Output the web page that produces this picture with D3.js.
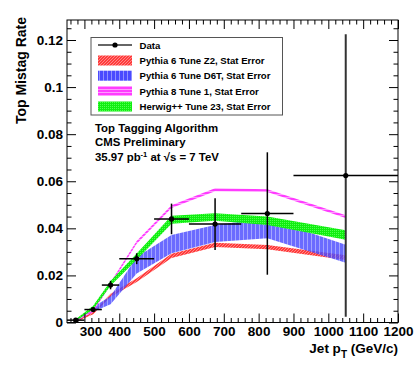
<!DOCTYPE html>
<html><head><meta charset="utf-8">
<script src="https://cdn.jsdelivr.net/npm/d3@7"></script>
<style>
html,body{margin:0;padding:0;background:#fff;}
svg text{font-family:"Liberation Sans",Arial,Helvetica,sans-serif;font-weight:bold;fill:#000;}
</style></head>
<body><svg id="c" width="415" height="371"></svg>
<script>
// ---- data ----
const binCenters = [275, 325, 375, 450, 550, 675, 825, 1050];
const binHalfWidths = [25, 25, 25, 50, 50, 75, 75, 150];
const dataRate = [0.001, 0.0055, 0.0159, 0.0271, 0.044, 0.0418, 0.0463, 0.0624];
const dataErr  = [0.0005, 0.0008, 0.0018, 0.0023, 0.0065, 0.011, 0.026, 0.060];

const z2Rate   = [0.0005, 0.004, 0.0115, 0.018, 0.0283, 0.033, 0.032, 0.0276];
const z2Err    = [0.0003, 0.0005, 0.0007, 0.0008, 0.0009, 0.0009, 0.0009, 0.001];
const d6tRate  = [0.0008, 0.0056, 0.0095, 0.0243, 0.0333, 0.0378, 0.0400, 0.0292];
const d6tErr   = [0.0004, 0.001, 0.0017, 0.0035, 0.0039, 0.0036, 0.0042, 0.0038];
const py8Rate  = [0.001, 0.005, 0.0165, 0.034, 0.0492, 0.0564, 0.056, 0.045];
const py8Err   = [0.0004, 0.0005, 0.0006, 0.0006, 0.0006, 0.0006, 0.0006, 0.0006];
const hwRate   = [0.001, 0.0063, 0.0166, 0.028, 0.0437, 0.0448, 0.0432, 0.0372];
const hwErr    = [0.0004, 0.0008, 0.001, 0.0013, 0.0017, 0.0016, 0.0018, 0.002];

const legendLabels = ["Data", "Pythia 6 Tune Z2, Stat Error", "Pythia 6 Tune D6T, Stat Error",
                      "Pythia 8 Tune 1, Stat Error", "Herwig++ Tune 23, Stat Error"];
const xMajorTicks = [300, 400, 500, 600, 700, 800, 900, 1000, 1100, 1200];
const yMajorTicks = [0, 0.02, 0.04, 0.06, 0.08, 0.1, 0.12];

// ---- layout ----
const svg = d3.select("#c");
const L = 67, R = 398, T = 20, B = 322.5;
const x = d3.scaleLinear().domain([250, 1200]).range([L, R]);
const y = d3.scaleLinear().domain([0, 0.1285]).range([B, T]);

// patterns
const defs = svg.append("defs");
function pat(id, w, h, bg, draw) {
  const p = defs.append("pattern").attr("id", id).attr("patternUnits", "userSpaceOnUse")
    .attr("width", w).attr("height", h);
  p.append("rect").attr("width", w).attr("height", h).attr("fill", bg);
  draw(p);
}
pat("pRed", 3, 3, "#ff3b3b", p => p.append("path").attr("d", "M0,3L3,0").attr("stroke", "#ff9a9a").attr("stroke-width", 0.8));
pat("pBlue", 4, 4, "#4a4aff", p => p.append("rect").attr("x", 3).attr("width", 1).attr("height", 4).attr("fill", "#9090ff"));
pat("pMag", 4, 3, "#ff3cff", p => p.append("rect").attr("y", 2).attr("width", 4).attr("height", 1).attr("fill", "#ff9cff"));
pat("pGreen", 2, 2, "#10ee10", p => p.append("rect").attr("width", 1).attr("height", 1).attr("fill", "#50ff50"));

// bands
const bands = [
  {rate: z2Rate, err: z2Err, fill: "url(#pRed)", op: 1},
  {rate: d6tRate, err: d6tErr, fill: "url(#pBlue)", op: 0.82},
  {rate: py8Rate, err: py8Err, fill: "url(#pMag)", op: 1},
  {rate: hwRate, err: hwErr, fill: "url(#pGreen)", op: 1}
];
const gB = svg.append("g");
bands.forEach(b => {
  const pts = binCenters.map((c, i) => ({x: c, lo: b.rate[i] - b.err[i], hi: b.rate[i] + b.err[i]}));
  const area = d3.area().x(d => x(d.x)).y0(d => y(d.lo)).y1(d => y(d.hi));
  gB.append("path").attr("d", area(pts)).attr("fill", b.fill).attr("fill-opacity", b.op);
});

// data points
const gD = svg.append("g");
binCenters.forEach((c, i) => {
  const col = i === binCenters.length - 1 ? "#333" : "#000";
  gD.append("line").attr("x1", x(c - binHalfWidths[i])).attr("x2", x(c + binHalfWidths[i]))
    .attr("y1", y(dataRate[i])).attr("y2", y(dataRate[i])).attr("stroke", "#000").attr("stroke-width", 1.5);
  gD.append("line").attr("x1", x(c)).attr("x2", x(c))
    .attr("y1", y(Math.max(0, dataRate[i] - dataErr[i]))).attr("y2", y(dataRate[i] + dataErr[i]))
    .attr("stroke", col).attr("stroke-width", i === binCenters.length - 1 ? 2 : 1.5);
  gD.append("circle").attr("cx", x(c)).attr("cy", y(dataRate[i])).attr("r", 2.6).attr("fill", "#000");
});

// axes
const xMinor = d3.range(260, 1201, 20).filter(v => v % 100 !== 0);
const yMinor = d3.range(0, 0.1285, 0.005).filter(v => Math.abs(v / 0.02 - Math.round(v / 0.02)) > 1e-6);
const fmtY = v => v === 0 ? "0" : String(+v.toFixed(2));

function styleAxis(g) { g.select(".domain").remove(); g.selectAll("line").attr("stroke", "#000"); }

svg.append("g").attr("transform", `translate(0,${B})`)
  .call(d3.axisBottom(x).tickValues(xMajorTicks).tickSize(-9).tickPadding(4).tickFormat(d3.format("d")))
  .call(styleAxis)
  .call(g => g.selectAll("text").attr("font-size", 13.5).attr("font-family", "Liberation Sans, Arial").attr("font-weight", "bold").attr("fill", "#000")
    .attr("dx", d => d === 300 ? 6 : 0));
svg.append("g").attr("transform", `translate(0,${B})`)
  .call(d3.axisBottom(x).tickValues(xMinor).tickSize(-4.5).tickFormat("")).call(styleAxis);
svg.append("g").attr("transform", `translate(0,${T})`)
  .call(d3.axisTop(x).tickValues(xMajorTicks).tickSize(-9).tickFormat("")).call(styleAxis);
svg.append("g").attr("transform", `translate(0,${T})`)
  .call(d3.axisTop(x).tickValues(xMinor).tickSize(-4.5).tickFormat("")).call(styleAxis);

svg.append("g").attr("transform", `translate(${L},0)`)
  .call(d3.axisLeft(y).tickValues(yMajorTicks).tickSize(-9).tickPadding(4).tickFormat(fmtY))
  .call(styleAxis)
  .call(g => g.selectAll("text").attr("font-size", 13.5).attr("font-family", "Liberation Sans, Arial").attr("font-weight", "bold").attr("fill", "#000"));
svg.append("g").attr("transform", `translate(${L},0)`)
  .call(d3.axisLeft(y).tickValues(yMinor).tickSize(-4.5).tickFormat("")).call(styleAxis);
svg.append("g").attr("transform", `translate(${R},0)`)
  .call(d3.axisRight(y).tickValues(yMajorTicks).tickSize(-9).tickFormat("")).call(styleAxis);
svg.append("g").attr("transform", `translate(${R},0)`)
  .call(d3.axisRight(y).tickValues(yMinor).tickSize(-4.5).tickFormat("")).call(styleAxis);

// frame
svg.append("rect").attr("x", L).attr("y", T).attr("width", R - L).attr("height", B - T)
  .attr("fill", "none").attr("stroke", "#000").attr("stroke-width", 1);

// axis titles
const xt = svg.append("text").attr("x", R).attr("y", 353).attr("text-anchor", "end").attr("font-size", 13.5);
xt.append("tspan").text("Jet p");
xt.append("tspan").attr("font-size", 10).attr("dy", 5).text("T");
xt.append("tspan").attr("dy", -5).text(" (GeV/c)");
svg.append("text").attr("transform", "translate(26,17) rotate(-90)").attr("text-anchor", "end")
  .attr("font-size", 14).text("Top Mistag Rate");

// legend
const lg = svg.append("g");
lg.append("rect").attr("x", 91).attr("y", 37.5).attr("width", 191.5).attr("height", 77.5)
  .attr("fill", "#fff").attr("stroke", "#555").attr("stroke-width", 1);
const rowY = [45, 60.5, 75.7, 91, 106.5];
const legFills = ["url(#pRed)", "url(#pBlue)", "url(#pMag)", "url(#pGreen)"];
lg.append("line").attr("x1", 98).attr("x2", 132).attr("y1", rowY[0]).attr("y2", rowY[0])
  .attr("stroke", "#333").attr("stroke-width", 1.5);
lg.append("circle").attr("cx", 115).attr("cy", rowY[0]).attr("r", 2.6).attr("fill", "#000");
legFills.forEach((f, i) => {
  lg.append("rect").attr("x", 98).attr("y", rowY[i + 1] - 5).attr("width", 34).attr("height", 10).attr("fill", f);
});
legendLabels.forEach((t, i) => {
  lg.append("text").attr("x", 139.5).attr("y", rowY[i] + 3.5).attr("font-size", 9.6).text(t);
});

// annotations
svg.append("text").attr("x", 95).attr("y", 131.5).attr("font-size", 11.4).text("Top Tagging Algorithm");
svg.append("text").attr("x", 95).attr("y", 145.5).attr("font-size", 11.4).text("CMS Preliminary");
const a3 = svg.append("text").attr("x", 95).attr("y", 160.5).attr("font-size", 11.4);
a3.append("tspan").text("35.97 pb");
a3.append("tspan").attr("font-size", 7.5).attr("dy", -4).text("-1");
a3.append("tspan").attr("dy", 4).text(" at \u221As = 7 TeV");
</script></body></html>
